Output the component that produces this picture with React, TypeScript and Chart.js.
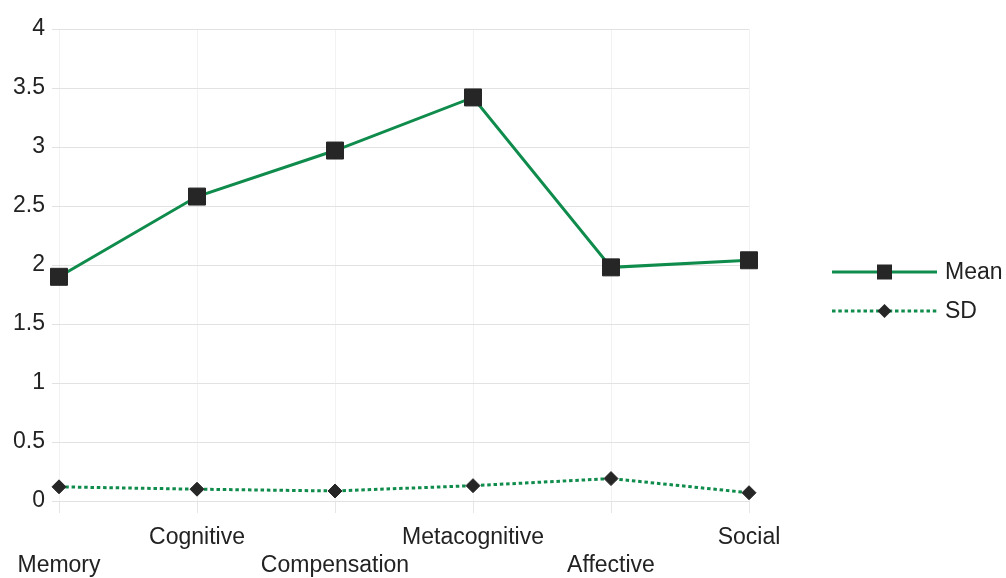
import React, { useEffect, useRef } from 'react';
import { Chart, registerables } from 'chart.js';

Chart.register(...registerables);

const categories = ['Memory', 'Cognitive', 'Compensation', 'Metacognitive', 'Affective', 'Social'];
const meanValues = [1.9, 2.58, 2.97, 3.42, 1.98, 2.04];
const sdValues = [0.12, 0.1, 0.085, 0.13, 0.19, 0.07];
const seriesNames = ['Mean', 'SD'];
const yMin = 0;
const yMax = 4;
const yStep = 0.5;

const GREEN = '#0f8c4c';
const MARKER = '#262626';
const TEXT = '#222222';
const FONT = "'Liberation Sans', Arial, Helvetica, sans-serif";

const legendPlugin = {
  id: 'customLineLegend',
  afterDraw(chart: any) {
    const ctx = chart.ctx as CanvasRenderingContext2D;
    const x0 = 832;
    const x1 = 937;
    const xm = (x0 + x1) / 2;
    const rows = [
      { y: 272, name: seriesNames[0], dash: [] as number[], marker: 'square' },
      { y: 311, name: seriesNames[1], dash: [3.5, 2.8], marker: 'diamond' },
    ];
    ctx.save();
    rows.forEach((r) => {
      ctx.strokeStyle = GREEN;
      ctx.lineWidth = 3;
      ctx.setLineDash(r.dash);
      ctx.beginPath();
      ctx.moveTo(x0, r.y);
      ctx.lineTo(x1, r.y);
      ctx.stroke();
      ctx.setLineDash([]);
      ctx.fillStyle = MARKER;
      ctx.beginPath();
      if (r.marker === 'square') {
        ctx.rect(xm - 7.5, r.y - 7.5, 15, 15);
      } else {
        ctx.moveTo(xm - 7, r.y);
        ctx.lineTo(xm, r.y - 7);
        ctx.lineTo(xm + 7, r.y);
        ctx.lineTo(xm, r.y + 7);
        ctx.closePath();
      }
      ctx.fill();
      ctx.fillStyle = TEXT;
      ctx.font = `23px ${FONT}`;
      ctx.textBaseline = 'middle';
      ctx.textAlign = 'left';
      ctx.fillText(r.name, 945, r.y + 1);
    });
    ctx.restore();
  },
};

export default function App() {
  const ref = useRef<HTMLCanvasElement | null>(null);

  useEffect(() => {
    if (!ref.current) return;
    const chart = new Chart(ref.current, {
      type: 'line',
      data: {
        labels: categories,
        datasets: [
          {
            label: seriesNames[0],
            data: meanValues,
            borderColor: GREEN,
            borderWidth: 3,
            pointStyle: 'rect',
            pointRadius: 12,
            pointBackgroundColor: MARKER,
            pointBorderColor: MARKER,
            pointBorderWidth: 1,
            tension: 0,
          },
          {
            label: seriesNames[1],
            data: sdValues,
            borderColor: GREEN,
            borderWidth: 3,
            borderDash: [3.5, 2.8],
            pointStyle: 'rectRot',
            pointRadius: 7,
            pointBackgroundColor: MARKER,
            pointBorderColor: MARKER,
            pointBorderWidth: 1,
            tension: 0,
          },
        ],
      },
      options: {
        responsive: false,
        animation: false,
        layout: { padding: { top: 29, right: 257, left: 0, bottom: 0 } },
        plugins: {
          legend: { display: false },
          tooltip: { enabled: false },
        },
        scales: {
          x: {
            offset: false,
            afterFit: (s: any) => {
              s.height = 77;
            },
            border: { display: false },
            grid: {
              color: '#f2f2f2',
              tickColor: '#e6e6e6',
              tickLength: 12,
            },
            ticks: {
              autoSkip: false,
              maxRotation: 0,
              minRotation: 0,
              padding: 11,
              color: TEXT,
              font: { family: FONT, size: 23 },
              callback: (_v: any, i: number) =>
                i % 2 === 1 ? [categories[i], ''] : ['', categories[i]],
            },
          },
          y: {
            min: yMin,
            max: yMax,
            afterFit: (s: any) => {
              s.width = 59;
            },
            border: { display: false },
            grid: {
              color: '#e2e2e2',
              tickColor: '#e2e2e2',
              tickLength: 7,
            },
            ticks: {
              stepSize: yStep,
              padding: 7,
              color: TEXT,
              font: { family: FONT, size: 23 },
              callback: (v: any) => String(Number(v)),
            },
          },
        },
      },
      plugins: [legendPlugin],
    });
    return () => chart.destroy();
  }, []);

  return (
    <div style={{ position: 'absolute', left: 0, top: 0, width: 1006, height: 578, background: '#fff' }}>
      <canvas ref={ref} width={1006} height={578} />
    </div>
  );
}
